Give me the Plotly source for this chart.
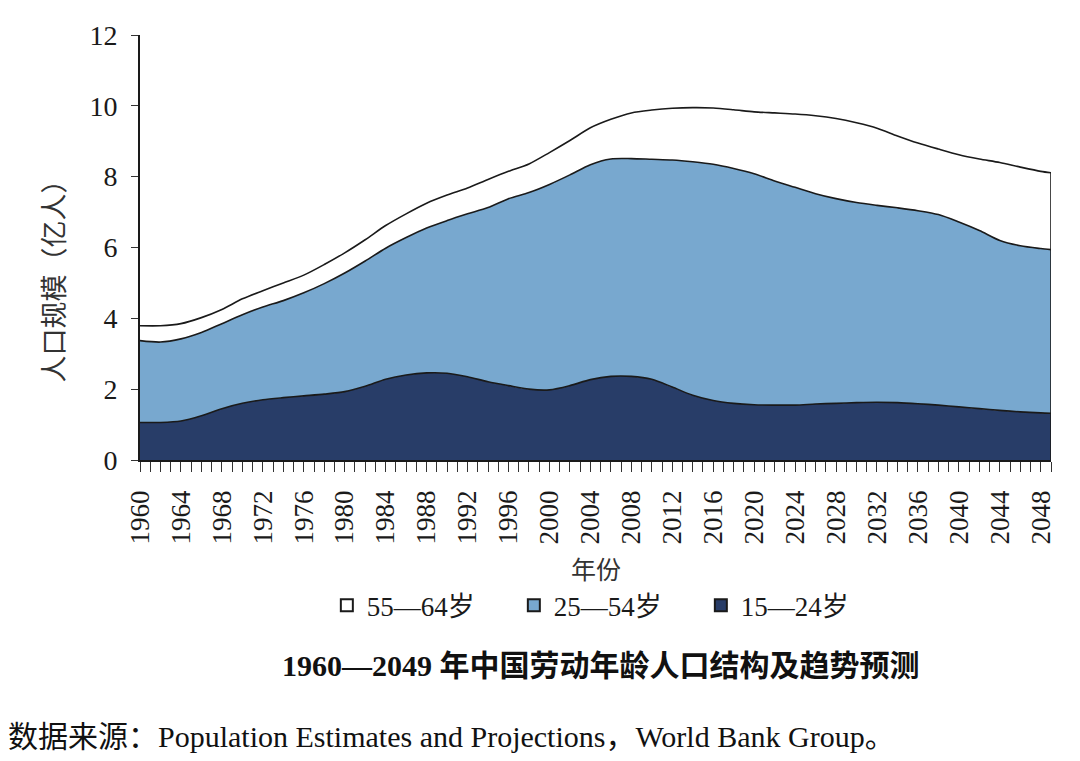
import plotly.graph_objects as go

years = [1960, 1962, 1964, 1966, 1968, 1970, 1972, 1974, 1976, 1978,
         1980, 1982, 1984, 1986, 1988, 1990, 1992, 1994, 1996, 1998,
         2000, 2002, 2004, 2006, 2008, 2010, 2012, 2014, 2016, 2018,
         2020, 2022, 2024, 2026, 2028, 2030, 2032, 2034, 2036, 2038,
         2040, 2042, 2044, 2046, 2048, 2049]

age_15_24 = [1.06, 1.06, 1.10, 1.25, 1.45, 1.60, 1.70, 1.76, 1.81, 1.86,
             1.93, 2.08, 2.28, 2.40, 2.46, 2.45, 2.35, 2.21, 2.10, 2.00,
             1.98, 2.10, 2.27, 2.36, 2.36, 2.28, 2.06, 1.83, 1.68, 1.60,
             1.56, 1.55, 1.55, 1.58, 1.60, 1.62, 1.63, 1.62, 1.59, 1.55,
             1.50, 1.45, 1.40, 1.36, 1.33, 1.32]

age_25_54 = [2.31, 2.27, 2.32, 2.35, 2.40, 2.50, 2.62, 2.74, 2.91, 3.12,
             3.35, 3.54, 3.70, 3.88, 4.09, 4.31, 4.60, 4.92, 5.28, 5.55,
             5.80, 5.95, 6.07, 6.14, 6.15, 6.21, 6.41, 6.59, 6.67, 6.63,
             6.52, 6.33, 6.15, 5.94, 5.78, 5.65, 5.56, 5.50, 5.45, 5.38,
             5.22, 5.03, 4.80, 4.69, 4.64, 4.62]

age_55_64 = [0.42, 0.46, 0.43, 0.42, 0.40, 0.45, 0.46, 0.50, 0.50, 0.54,
             0.57, 0.60, 0.64, 0.67, 0.70, 0.72, 0.73, 0.79, 0.77, 0.81,
             0.90, 0.97, 1.04, 1.12, 1.29, 1.39, 1.46, 1.53, 1.59, 1.66,
             1.75, 1.92, 2.07, 2.20, 2.26, 2.25, 2.18, 2.03, 1.91, 1.85,
             1.90, 2.02, 2.20, 2.22, 2.18, 2.17]

series_names = ["15—24岁", "25—54岁", "55—64岁"]
series_colors = ["#283d68", "#78a8cf", "#ffffff"]
tick_years = list(range(1960, 2049, 4))
y_ticks = [0, 2, 4, 6, 8, 10, 12]

SERIF = "Liberation Serif, Times New Roman, Noto Sans CJK SC, serif"
CJK = "Liberation Serif, Noto Sans CJK SC, serif"

fig = go.Figure()
for name, vals, col in zip(series_names, [age_15_24, age_25_54, age_55_64], series_colors):
    fig.add_trace(go.Scatter(
        x=years, y=vals, name=name, stackgroup="one", mode="lines",
        line=dict(color="#1a1a1a", width=1.6, shape="spline", smoothing=0.8),
        fillcolor=col, showlegend=False, hoverinfo="skip"))

# right-hand closing edge of the stacked area
last_total = age_15_24[-1] + age_25_54[-1] + age_55_64[-1]
fig.add_trace(go.Scatter(x=[years[-1], years[-1]], y=[0, last_total], mode="lines",
                         line=dict(color="#1a1a1a", width=1.6), showlegend=False,
                         hoverinfo="skip"))

# legend entries (bordered squares), ordered as in the reference
for name, col in zip(series_names[::-1], series_colors[::-1]):
    fig.add_trace(go.Scatter(
        x=[None], y=[None], mode="markers", name=name,
        marker=dict(symbol="square", size=17, color=col,
                    line=dict(color="#1a1a1a", width=1.3))))

fig.update_layout(
    width=1072, height=753,
    margin=dict(l=132, r=29, t=24, b=301),
    paper_bgcolor="white", plot_bgcolor="white",
    font=dict(family=SERIF, color="#1a1a1a", size=22),
    showlegend=True,
    legend=dict(orientation="h", x=0.513, xanchor="center", y=-0.343, yanchor="middle",
                entrywidth=142, entrywidthmode="pixels", itemsizing="constant",
                font=dict(family=CJK, size=27, color="#1a1a1a"), traceorder="normal",
                itemwidth=30),
    xaxis=dict(
        range=[1960, 2049], tickmode="array", tickvals=tick_years,
        ticktext=[str(v) for v in tick_years], tickangle=-90,
        ticks="outside", ticklen=10, tickwidth=1.2, tickcolor="#333",
        ticklabelstandoff=8,
        showline=True, linecolor="#1a1a1a", linewidth=1.6,
        showgrid=False, zeroline=False,
        tickfont=dict(family=SERIF, size=27, color="#1a1a1a"),
        minor=dict(dtick=1, tick0=1960, ticks="outside", ticklen=10, tickwidth=1.2,
                   tickcolor="#333", showgrid=False),
    ),
    yaxis=dict(
        range=[0, 12], tickmode="array", tickvals=y_ticks,
        ticks="outside", ticklen=7, tickwidth=1.4, tickcolor="#333",
        ticklabelstandoff=8,
        showline=True, linecolor="#1a1a1a", linewidth=1.6,
        showgrid=False, zeroline=False,
        tickfont=dict(family=SERIF, size=28, color="#1a1a1a"),
    ),
    annotations=[
        dict(text="人口规模（亿人）", xref="paper", yref="paper", x=-0.093, y=0.437,
             xanchor="center", yanchor="middle", textangle=-90, showarrow=False,
             font=dict(family=CJK, size=27, color="#333")),
        dict(text="年份", xref="paper", yref="paper", x=0.5, y=-0.260,
             xanchor="center", yanchor="middle", showarrow=False,
             font=dict(family=CJK, size=25, color="#333")),
        dict(text="<b>1960—2049 年中国劳动年龄人口结构及趋势预测</b>", xref="paper", yref="paper",
             x=0.506, y=-0.484, xanchor="center", yanchor="middle",
             showarrow=False, font=dict(family=CJK, size=30, color="#111")),
        dict(text="数据来源：Population Estimates and Projections，World Bank Group。",
             xref="paper", yref="paper", x=-0.147, y=-0.650, xanchor="left", yanchor="middle",
             showarrow=False, font=dict(family=CJK, size=30, color="#111")),
    ],
)

fig.write_html("out.html")
